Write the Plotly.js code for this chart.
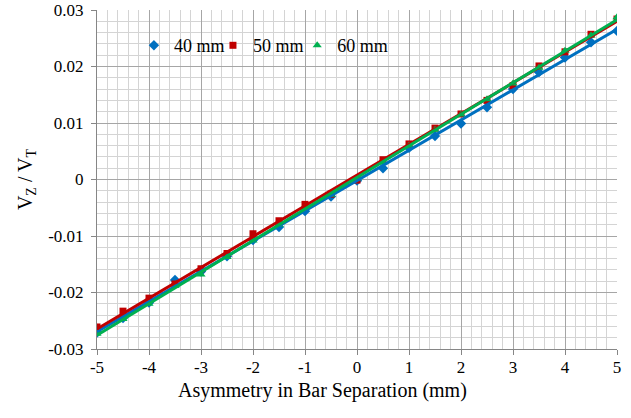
<!DOCTYPE html>
<html>
<head>
<meta charset="utf-8">
<script src="https://cdn.plot.ly/plotly-3.0.1.min.js"></script>
<style>
  html, body { margin: 0; padding: 0; background: #ffffff; }
  #chart { width: 631px; height: 418px; }
</style>
</head>
<body>
<div id="chart"></div>
<script>
// Asymmetry in bar separation (mm)
const asymmetry = [-5, -4.5, -4, -3.5, -3, -2.5, -2, -1.5, -1, -0.5, 0,
                   0.5, 1, 1.5, 2, 2.5, 3, 3.5, 4, 4.5, 5];

// Measured V_Z / V_T for each bar spacing
const ratio40 = [-0.0271, -0.0245, -0.0218, -0.0178, -0.0163, -0.0136, -0.0107,
                 -0.0084, -0.0056, -0.0030, -0.0002, 0.0020, 0.0056, 0.0077,
                 0.0099, 0.0128, 0.0160, 0.0190, 0.0216, 0.0243, 0.0263];
const ratio50 = [-0.0261, -0.0233, -0.0210, -0.0185, -0.0158, -0.0131, -0.0096,
                 -0.0073, -0.0044, -0.0026, -0.0001, 0.0035, 0.0063, 0.0091,
                 0.0116, 0.0140, 0.0166, 0.0201, 0.0226, 0.0257, 0.0284];
const ratio60 = [-0.0273, -0.0247, -0.0220, -0.0188, -0.0168, -0.0137, -0.0108,
                 -0.0080, -0.0051, -0.0027, 0.0002, 0.0030, 0.0060, 0.0088,
                 0.0115, 0.0142, 0.0170, 0.0198, 0.0228, 0.0255, 0.0287];

// Axis tick positions and their labels (plain hyphen minus signs)
const xTickVals = [-5, -4, -3, -2, -1, 0, 1, 2, 3, 4, 5];
const xTickText = ['-5', '-4', '-3', '-2', '-1', '0', '1', '2', '3', '4', '5'];
const yTickVals = [-0.03, -0.02, -0.01, 0, 0.01, 0.02, 0.03];
const yTickText = ['-0.03', '-0.02', '-0.01', '0', '0.01', '0.02', '0.03'];

const seriesNames = ['40 mm', '50 mm', '60 mm'];
const seriesColors = ['#0070C0', '#C00000', '#00B050'];
const seriesSymbols = ['diamond', 'square', 'triangle-up'];
const seriesValues = [ratio40, ratio50, ratio60];
// each series gets its own legend box so the entries can sit close together
const legendIds = ['legend', 'legend2', 'legend3'];
const legendX = [0.071, 0.223, 0.385];

// Least-squares straight line through one series
function linearFit(xs, ys) {
  const n = xs.length;
  let sx = 0, sy = 0, sxx = 0, sxy = 0;
  for (let i = 0; i < n; i++) {
    sx += xs[i]; sy += ys[i]; sxx += xs[i] * xs[i]; sxy += xs[i] * ys[i];
  }
  const slope = (n * sxy - sx * sy) / (n * sxx - sx * sx);
  const intercept = (sy - slope * sx) / n;
  return x => slope * x + intercept;
}

const xMin = asymmetry[0];
const xMax = asymmetry[asymmetry.length - 1];

const traces = [];
// measured points
seriesValues.forEach((vals, i) => {
  traces.push({
    x: asymmetry, y: vals, type: 'scatter', mode: 'markers',
    name: seriesNames[i], legend: legendIds[i],
    marker: { symbol: seriesSymbols[i], color: seriesColors[i],
              size: seriesSymbols[i] === 'square' ? 7 : 8 },
    showlegend: true
  });
});
// fitted trend lines on top of the points
seriesValues.forEach((vals, i) => {
  const f = linearFit(asymmetry, vals);
  traces.push({
    x: [xMin, xMax], y: [f(xMin), f(xMax)], type: 'scatter', mode: 'lines',
    line: { color: seriesColors[i], width: 3 },
    showlegend: false, hoverinfo: 'skip'
  });
});

const serif = "'Liberation Serif', 'Times New Roman', serif";

const layout = {
  width: 631, height: 418,
  margin: { l: 97, r: 14, t: 10, b: 69 },
  paper_bgcolor: '#ffffff', plot_bgcolor: '#ffffff',
  font: { family: serif, color: '#000000', size: 17 },
  showlegend: true,
  xaxis: {
    range: [-5, 5], tickmode: 'array', tickvals: xTickVals, ticktext: xTickText,
    showgrid: true, gridcolor: '#a6a6a6', gridwidth: 1,
    minor: { dtick: 0.2, tick0: -5, showgrid: true, gridcolor: '#d4d4d4', gridwidth: 1 },
    zeroline: false,
    showline: true, linecolor: '#868686', linewidth: 1,
    ticks: 'outside', ticklen: 5, tickcolor: '#868686',
    ticklabelstandoff: -2,
    tickfont: { family: serif, size: 17, color: '#000' }
  },
  yaxis: {
    range: [-0.03, 0.03], tickmode: 'array', tickvals: yTickVals, ticktext: yTickText,
    showgrid: true, gridcolor: '#a6a6a6', gridwidth: 1,
    minor: { dtick: 0.002, tick0: -0.03, showgrid: true, gridcolor: '#d4d4d4', gridwidth: 1 },
    zeroline: false,
    showline: true, linecolor: '#868686', linewidth: 1,
    ticks: 'outside', ticklen: 5, tickcolor: '#868686',
    ticklabelstandoff: 4,
    tickfont: { family: serif, size: 17, color: '#000' },
    title: { text: 'V<sub>Z</sub> / V<sub>T</sub>', font: { family: serif, size: 20 }, standoff: 10 }
  },
  annotations: [{
    text: 'Asymmetry in Bar Separation (mm)',
    xref: 'paper', yref: 'paper', x: 0.433, y: -0.082,
    xanchor: 'center', yanchor: 'top', showarrow: false,
    font: { family: serif, size: 20, color: '#000' }
  }]
};

legendIds.forEach((id, i) => {
  layout[id] = {
    orientation: 'h', x: legendX[i], y: 0.895, xanchor: 'left', yanchor: 'middle',
    bgcolor: 'rgba(0,0,0,0)', borderwidth: 0,
    font: { family: serif, size: 18, color: '#000' }, itemwidth: 30
  };
});

Plotly.newPlot('chart', traces, layout, { displayModeBar: false, staticPlot: true });
</script>
</body>
</html>
